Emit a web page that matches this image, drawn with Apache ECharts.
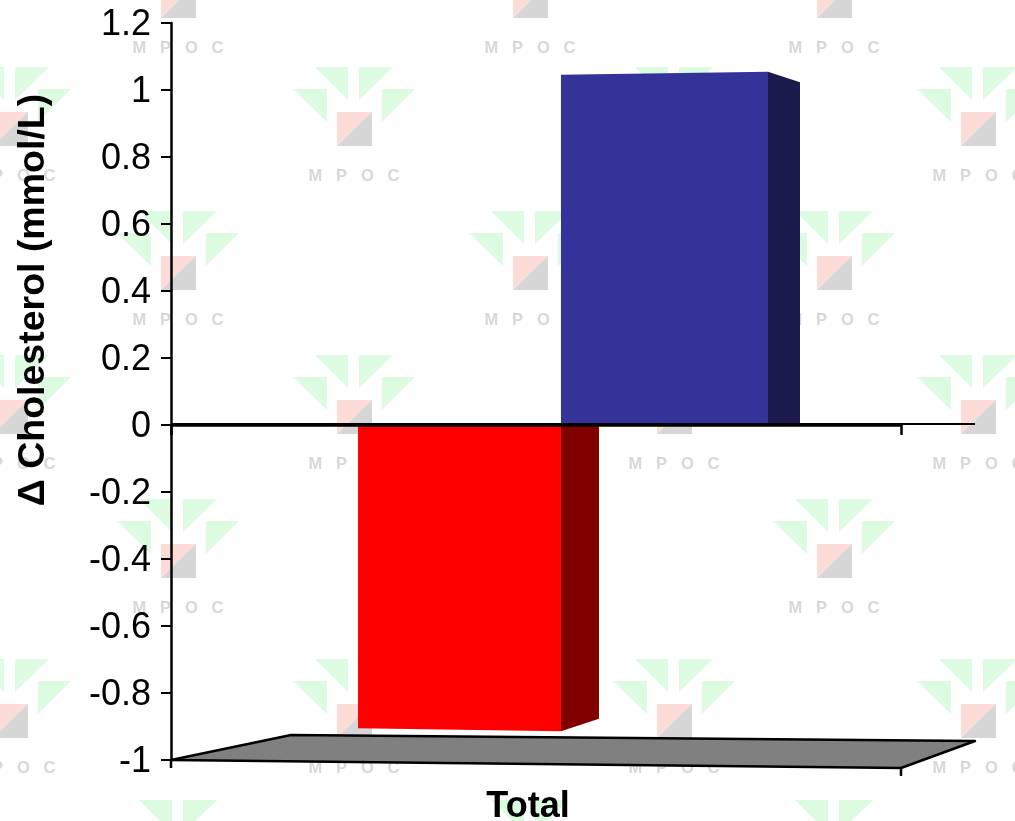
<!DOCTYPE html>
<html>
<head>
<meta charset="utf-8">
<style>html,body{margin:0;padding:0;background:#fff}#chart{width:1015px;height:821px}</style>
<script src="https://cdn.jsdelivr.net/npm/echarts@6/dist/echarts.min.js"></script>
</head>
<body>
<div id="chart"></div>
<script>
// Cholesterol change by arm, drawn as pseudo-3D columns on a floor plate.
const categories = ['Total'];
const negativeArm = [-0.91];
const positiveArm = [1.05];
const yTicks = { min: -1, max: 1.2, step: 0.2 };

// Repeating MPOC backdrop: logo centres as [x, baseline-row y].
const logoRows = [
  [47, [178, 530, 834]],
  [175, [10, 354, 674, 978]],
  [319, [178, 530, 834]],
  [463, [10, 354, 674, 978]],
  [607, [178, 530, 834]],
  [767, [10, 354, 674, 978]],
  [908, [178, 530, 834]]
];

function logo(cx, ty) {
  const tri = pts => ({
    type: 'polygon', silent: true, z: -5,
    shape: { points: pts.map(p => [cx + p[0], ty + p[1]]) },
    style: { fill: '#dcfbe0' }
  });
  return [
    tri([[-61, -86], [-27, -86], [-27, -53]]),
    tri([[-39, -108], [-6, -108], [-6, -75]]),
    tri([[5, -108], [39, -108], [5, -75]]),
    tri([[28, -86], [61, -86], [28, -53]]),
    { type: 'polygon', silent: true, z: -5,
      shape: { points: [[cx - 17, ty - 63], [cx + 18, ty - 63], [cx - 17, ty - 29]] },
      style: { fill: '#fbdcd6' } },
    { type: 'polygon', silent: true, z: -5,
      shape: { points: [[cx + 18, ty - 63], [cx + 18, ty - 29], [cx - 17, ty - 29]] },
      style: { fill: '#d6d6d6' } },
    { type: 'text', silent: true, z: -5, x: cx, y: ty + 1,
      style: { text: 'M   P   O   C', fill: '#d8d8d8', font: 'bold 16.5px "Liberation Sans"',
               align: 'center', verticalAlign: 'middle' } }
  ];
}

// Front face and receding side face of one column; band fractions place it around the category centre.
function columnRenderer(from, to, faceColor, sideColor, depth, drop) {
  return function (params, api) {
    const end = api.coord([api.value(0), api.value(1)]);
    const base = api.coord([api.value(0), 0]);
    const band = api.size([1, 0])[0];
    const x0 = end[0] + from * band;
    const x1 = end[0] + to * band;
    const up = api.value(1) >= 0;
    const slant = up ? 1.5 : -1.5;
    return {
      type: 'group',
      children: [
        { type: 'polygon',
          shape: { points: [[x1, base[1]], [x1 + depth, base[1]], [x1 + depth, end[1] + drop], [x1, end[1] - slant]] },
          style: { fill: sideColor } },
        { type: 'polygon',
          shape: { points: [[x0, base[1]], [x1, base[1]], [x1, end[1] - slant], [x0, end[1] + slant]] },
          style: { fill: faceColor } }
      ]
    };
  };
}

// Floor plate under the lowest gridline, with the sloping front edge and its ticks.
function floorRenderer(params, api) {
  const c = api.coord([0, yTicks.min]);
  const band = api.size([1, 0])[0];
  const l = c[0] - band / 2, r = c[0] + band / 2, y = c[1];
  const line = (x1, y1, x2, y2, w) => ({
    type: 'line', shape: { x1, y1, x2, y2 }, style: { stroke: '#000', lineWidth: w }
  });
  return {
    type: 'group',
    children: [
      { type: 'polygon',
        shape: { points: [[l, y], [l + 120, y - 25], [r + 74, y - 19], [r, y + 8]] },
        style: { fill: '#808080', stroke: '#000', lineWidth: 2.5, lineJoin: 'round' } },
      line(l, y, l, y + 8, 2.5),
      line(r, y + 8, r, y + 16, 2.5)
    ]
  };
}

// Thin back-wall edge that runs on past the zero line.
function wallRenderer(params, api) {
  const c = api.coord([0, 0]);
  const band = api.size([1, 0])[0];
  return {
    type: 'line',
    shape: { x1: c[0] - band / 2, y1: c[1] - 1, x2: c[0] + band / 2 + 74, y2: c[1] - 1 },
    style: { stroke: '#000', lineWidth: 2 }
  };
}

const chart = echarts.init(document.getElementById('chart'), null, { renderer: 'canvas' });
const labelFont = '"Liberation Sans", Arial, sans-serif';

chart.setOption({
  animation: false,
  backgroundColor: '#ffffff',
  grid: { left: 171, top: 23, width: 730, height: 737, outerBoundsMode: 'none' },
  graphic: {
    elements: logoRows.flatMap(([ty, xs]) => xs.flatMap(x => logo(x, ty))).concat([
      { type: 'text', silent: true, z: 10, x: 34, y: 300, rotation: Math.PI / 2,
        style: { text: 'Δ Cholesterol (mmol/L)', fill: '#000', align: 'center', verticalAlign: 'middle',
                 font: 'bold 37.5px ' + labelFont } }
    ])
  },
  xAxis: [
    { type: 'category', data: categories, position: 'bottom', z: 5,
      axisLine: { show: true, onZero: true, lineStyle: { color: '#000', width: 2.5 } },
      axisTick: { show: true, length: 10, lineStyle: { color: '#000', width: 2.5 } },
      axisLabel: { show: false },
      splitLine: { show: false } },
    { type: 'category', data: categories, position: 'bottom',
      axisLine: { show: false, onZero: false },
      axisTick: { show: false },
      axisLabel: { show: true, margin: 29, color: '#000', fontFamily: labelFont,
                   fontWeight: 'bold', fontSize: 36, padding: [0, 16, 0, 0] } }
  ],
  yAxis: {
    type: 'value', min: yTicks.min, max: yTicks.max, interval: yTicks.step, z: 5,
    axisLine: { show: true, lineStyle: { color: '#000', width: 2.5 } },
    axisTick: { show: true, length: 10, lineStyle: { color: '#000', width: 2 } },
    axisLabel: { margin: 20, showMinLabel: true, showMaxLabel: true,
                 formatter: v => '{t|' + (Math.round(v * 10) / 10) + '}',
                 rich: { t: { color: '#000', fontFamily: labelFont, fontSize: 36,
                              lineHeight: 41, verticalAlign: 'bottom' } } },
    splitLine: { show: false }
  },
  series: [
    { type: 'custom', name: 'Floor', z: 1, coordinateSystem: 'cartesian2d', silent: true,
      renderItem: floorRenderer, data: [[0, yTicks.min]], clip: false },
    { type: 'custom', name: 'Lowered', z: 2, renderItem: columnRenderer(-0.2438, 0.0342, '#ff0000', '#800000', 38, -11),
      data: negativeArm.map((v, i) => [i, v]), clip: false },
    { type: 'custom', name: 'Raised', z: 2, renderItem: columnRenderer(0.0342, 0.3178, '#333399', '#1a1a4d', 32, 9),
      data: positiveArm.map((v, i) => [i, v]), clip: false },
    { type: 'custom', name: 'Wall', z: 6, silent: true, renderItem: wallRenderer, data: [[0, 0]], clip: false }
  ]
});
</script>
</body>
</html>
